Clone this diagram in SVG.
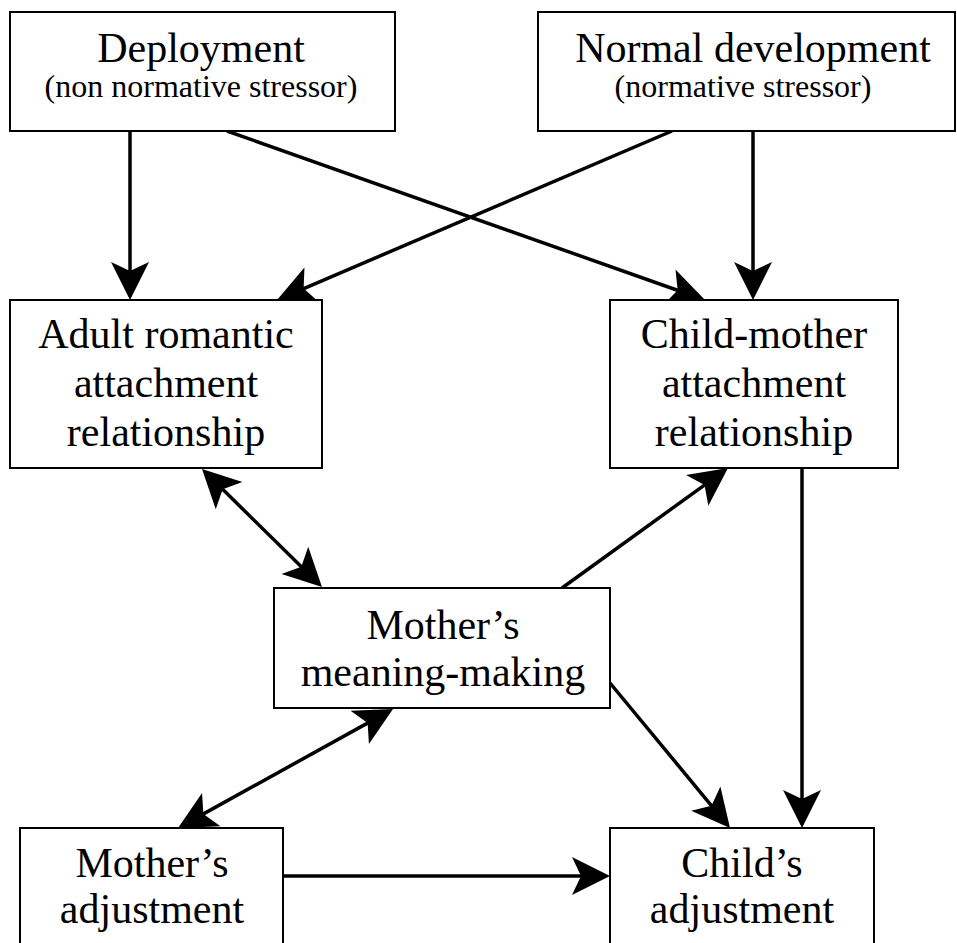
<svg xmlns="http://www.w3.org/2000/svg" width="957" height="943" viewBox="0 0 957 943">
<style>
.box{fill:#fff;stroke:#000;stroke-width:2}
.t{font-family:"Liberation Serif","Times New Roman",serif;font-size:42px;text-anchor:middle;fill:#000}
.s{font-family:"Liberation Serif","Times New Roman",serif;font-size:32px;text-anchor:middle;fill:#000}
.c{stroke:#000;stroke-width:3.5;fill:none}
.h{fill:#000;stroke:none}
</style>
<g id="connectors">
<line class="c" x1="130" y1="131" x2="130" y2="276"/>
<polygon class="h" points="130,300 149,262 130,271 111,262"/>
<line class="c" x1="753" y1="131" x2="753" y2="276"/>
<polygon class="h" points="753,300 772,262 753,271 734,262"/>
<line class="c" x1="227" y1="131" x2="682.37" y2="292.01"/>
<polygon class="h" points="705,300 662.84,305.27 677.65,290.34 675.5,269.43"/>
<line class="c" x1="672" y1="131" x2="299.06" y2="290.57"/>
<polygon class="h" points="277,300 304.45,267.61 303.65,288.6 319.39,302.53"/>
<line class="c" x1="219.11" y1="485.82" x2="304.89" y2="570.18"/>
<polygon class="h" points="322,587 281.59,573.91 301.32,566.67 308.23,546.81"/>
<polygon class="h" points="202,469 242.41,482.09 222.68,489.33 215.77,509.19"/>
<line class="c" x1="562" y1="588" x2="708.56" y2="482.06"/>
<polygon class="h" points="728,468 708.35,505.66 704.51,484.99 686.09,474.88"/>
<line class="c" x1="610" y1="683" x2="714.69" y2="809.52"/>
<polygon class="h" points="730,828 691.13,810.86 711.5,805.67 720.39,786.62"/>
<line class="c" x1="802" y1="468" x2="802" y2="804"/>
<polygon class="h" points="802,828 821,790 802,799 783,790"/>
<line class="c" x1="372" y1="720.62" x2="199" y2="816.38"/>
<polygon class="h" points="393,709 368.95,744.02 367.62,723.04 350.55,710.76"/>
<polygon class="h" points="178,828 202.05,792.98 203.38,813.96 220.45,826.24"/>
<line class="c" x1="274" y1="876" x2="586" y2="876"/>
<polygon class="h" points="610,876 572,895 581,876 572,857"/>
</g>
<g id="deployment">
<rect class="box" x="10" y="12" width="385" height="119"/>
<text class="t" x="201" y="62">Deployment</text>
<text class="s" x="201" y="97">(non normative stressor)</text>
</g>
<g id="normal-development">
<rect class="box" x="538" y="12" width="417" height="119"/>
<text class="t" x="753" y="62">Normal development</text>
<text class="s" x="743" y="97">(normative stressor)</text>
</g>
<g id="adult-romantic">
<rect class="box" x="10" y="300" width="312" height="168"/>
<text class="t" x="166" y="348">Adult romantic</text>
<text class="t" x="166" y="397">attachment</text>
<text class="t" x="166" y="446">relationship</text>
</g>
<g id="child-mother">
<rect class="box" x="610" y="300" width="288" height="168"/>
<text class="t" x="754" y="348">Child-mother</text>
<text class="t" x="754" y="397">attachment</text>
<text class="t" x="754" y="446">relationship</text>
</g>
<g id="meaning-making">
<rect class="box" x="274" y="588" width="336" height="120"/>
<text class="t" x="443" y="639">Mother’s</text>
<text class="t" x="443" y="686">meaning-making</text>
</g>
<g id="mothers-adjustment">
<rect class="box" x="20" y="828" width="263" height="130"/>
<text class="t" x="152" y="877">Mother’s</text>
<text class="t" x="152" y="923">adjustment</text>
</g>
<g id="childs-adjustment">
<rect class="box" x="610" y="828" width="264" height="130"/>
<text class="t" x="742" y="877">Child’s</text>
<text class="t" x="742" y="923">adjustment</text>
</g>
</svg>
